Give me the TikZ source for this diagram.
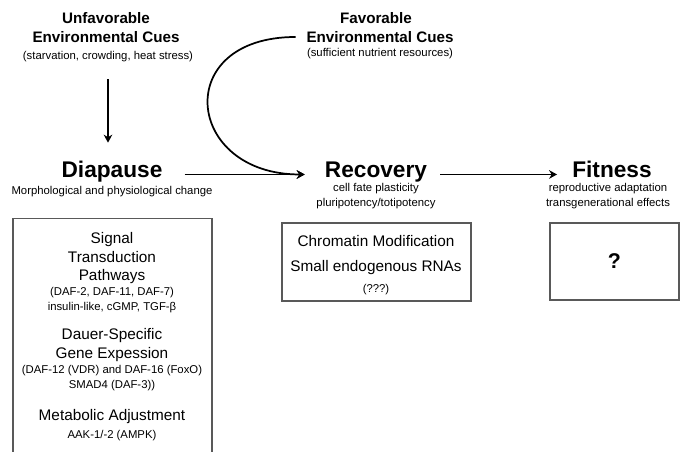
\documentclass[tikz,border=0pt]{standalone}
\usepackage{fontspec}
\setmainfont{Liberation Sans}
\usetikzlibrary{positioning,arrows.meta,shadows}

\begin{document}
\begin{tikzpicture}[>={Stealth[length=6pt,width=6.5pt]},x=0.75pt,y=-0.75pt,
  every node/.style={inner sep=0pt,align=center},
  cue/.style={font=\bfseries\fontsize{11.4}{14.3}\selectfont},
  note/.style={font=\fontsize{8.5}{10.8}\selectfont},
  stage/.style={font=\bfseries\fontsize{17}{20}\selectfont,anchor=base},
  boxtxt/.style={font=\fontsize{11.5}{13.9}\selectfont},
  panel/.style={draw=black!65,line width=0.8pt,fill=white,
    drop shadow={shadow xshift=1pt,shadow yshift=-1pt,opacity=0.25}},
  flow/.style={->,line width=1.3pt}]
\useasboundingbox (0,0) rectangle (686,452);
\clip (0,0) rectangle (686,452);
% cues
\node[cue] (unfav) at (106,27.5) {Unfavorable\\Environmental Cues};
\node[note] (unfavnote) at (108,57) {(starvation, crowding, heat stress)};
\node[cue] (fav) at (376,18) {Favorable};
\node[cue] (favenv) at (380,37) {Environmental Cues};
\node[note] (favnote) at (380,54) {(sufficient nutrient resources)};
% stages
\node[stage] (diapause) at (112,178) {Diapause};
\node[note] (diapnote) at (112,192) {Morphological and physiological change};
\node[stage] (recovery) at (376,178) {Recovery};
\node[note] (recnote) at (376,196) {cell fate plasticity\\pluripotency/totipotency};
\node[stage] (fitness) at (612,178) {Fitness};
\node[note] (fitnote) at (608,196) {reproductive adaptation\\transgenerational effects};
% arrows
\draw[flow,shorten <=12.5pt,shorten >=14pt] (unfavnote.south) -- (unfavnote.south |- diapause.north);
\draw[flow,shorten <=16.5pt,shorten >=15pt] (diapause.mid east) -- (recovery.mid west);
\draw[flow,shorten >=15pt] ([xshift=-8pt]favenv.west) .. controls +(-125,0) and +(-140,0) .. (recovery.mid west);
\draw[flow,shorten <=9.75pt,shorten >=11.25pt] (recovery.mid east) -- (fitness.mid west);
% diapause box
\node[panel,minimum width=149.25pt,minimum height=200pt,anchor=north] (sigbox) at (112.5,218) {};
\node[boxtxt] (sigpath) at (112,258.5) {Signal\\Transduction\\Pathways};
\node[note] (signote) at (112,300) {(DAF-2, DAF-11, DAF-7)\\insulin-like, cGMP, TGF-β};
\node[boxtxt] (dauer) at (112,345) {Dauer-Specific\\Gene Expession};
\node[note] (dauernote) at (112,378) {(DAF-12 (VDR) and DAF-16 (FoxO)\\SMAD4 (DAF-3))};
\node[boxtxt] (metab) at (112,417) {Metabolic Adjustment};
\node[note] (metabnote) at (112,436) {AAK-1/-2 (AMPK)};
% recovery box
\node[panel,minimum width=141.75pt,minimum height=58.5pt] (chrbox) at (376.5,262) {};
\node[boxtxt] (chrtxt) at (376,255.5) {Chromatin Modification\\[4.8pt]Small endogenous RNAs};
\node[note] (chrnote) at (376,290) {(???)};
% fitness box
\node[panel,minimum width=96.75pt,minimum height=57.75pt,font=\bfseries\fontsize{16}{18}\selectfont] (fitbox) at (614.5,261.5) {?};
\end{tikzpicture}
\end{document}
